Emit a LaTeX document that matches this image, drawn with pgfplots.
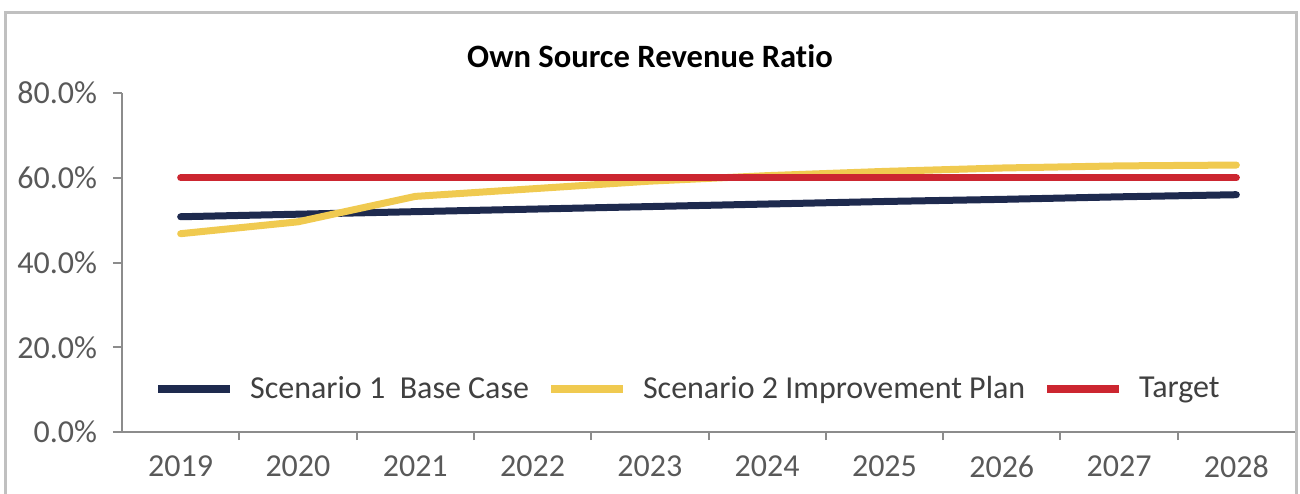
\documentclass[border=0pt]{standalone}
\usepackage{fontspec}
\setmainfont[Ligatures=NoCommon]{Carlito}
\usepackage{pgfplots}
\pgfplotsset{compat=1.18}
\definecolor{navyc}{HTML}{1E2A4E}
\definecolor{yellowc}{HTML}{F0CA50}
\definecolor{redc}{HTML}{CC2630}
\definecolor{axisgray}{HTML}{8C8C8C}
\definecolor{framegray}{HTML}{C0C0C0}
\definecolor{labelgray}{HTML}{595959}
\definecolor{legendgray}{HTML}{404040}
\begin{document}
\begin{tikzpicture}
\useasboundingbox (0,0) rectangle (650pt,246.5pt);
\draw[framegray, line width=1.5pt] (2.5pt,-5pt) -- (2.5pt,240pt) -- (648pt,240pt) -- (648pt,-5pt);
\node[font=\fontsize{16.3}{19}\selectfont\bfseries, text=black] at (325pt,218.5pt) {Own Source Revenue Ratio};
\begin{axis}[
  at={(61pt,30.5pt)}, anchor=south west,
  scale only axis, width=586.5pt, height=169.5pt,
  xmin=-0.5, xmax=9.5, ymin=0, ymax=80,
  axis lines=left,
  axis line style={-, draw=axisgray, line width=1pt},
  tick align=outside,
  xtick={0,1,2,3,4,5,6,7,8,9},
  xticklabels={2019,2020,2021,2022,2023,2024,2025,2026,2027,2028},
  major x tick style={draw=none},
  minor xtick={0.5,1.5,2.5,3.5,4.5,5.5,6.5,7.5,8.5},
  minor x tick style={draw=axisgray, line width=1pt},
  minor tick length=4pt,
  ytick={0,20,40,60,80},
  major y tick style={draw=axisgray, line width=1pt},
  major tick length=4.5pt,
  yticklabel={\pgfmathprintnumber[fixed, fixed zerofill, precision=1]{\tick}\%},
  /pgf/number format/assume math mode=true,
  ticklabel style={font=\fontsize{16}{19}\selectfont, text=labelgray},
  yticklabel style={xshift=-4.5pt},
  xticklabel style={yshift=-4pt},
  legend columns=3,
  legend style={at={(0.022,0.128)}, anchor=west, draw=none, fill=none,
    font=\fontsize{16}{19}\selectfont, text=legendgray,
    /tikz/every odd column/.append style={column sep=4pt},
    /tikz/every even column/.append style={column sep=5pt},
    nodes={inner xsep=4pt}},
  legend image code/.code={\draw[#1, line width=4pt, line cap=butt] (0pt,0pt) -- (36pt,0pt);},
  every axis plot/.append style={line width=3.5pt, line cap=round, line join=round},
]
\addplot[navyc] coordinates {(0,50.8) (1,51.4) (2,52.0) (3,52.6) (4,53.2) (5,53.8) (6,54.4) (7,54.9) (8,55.5) (9,56.0)};
\addlegendentry{Scenario 1\ \ Base Case}
\addplot[yellowc] coordinates {(0,46.8) (1,49.6) (2,55.6) (3,57.4) (4,59.2) (5,60.5) (6,61.5) (7,62.3) (8,62.8) (9,63.0)};
\addlegendentry{Scenario 2 Improvement Plan}
\addplot[redc] coordinates {(0,60) (1,60) (2,60) (3,60) (4,60) (5,60) (6,60) (7,60) (8,60) (9,60)};
\addlegendentry{Target}
\end{axis}
\end{tikzpicture}
\end{document}
